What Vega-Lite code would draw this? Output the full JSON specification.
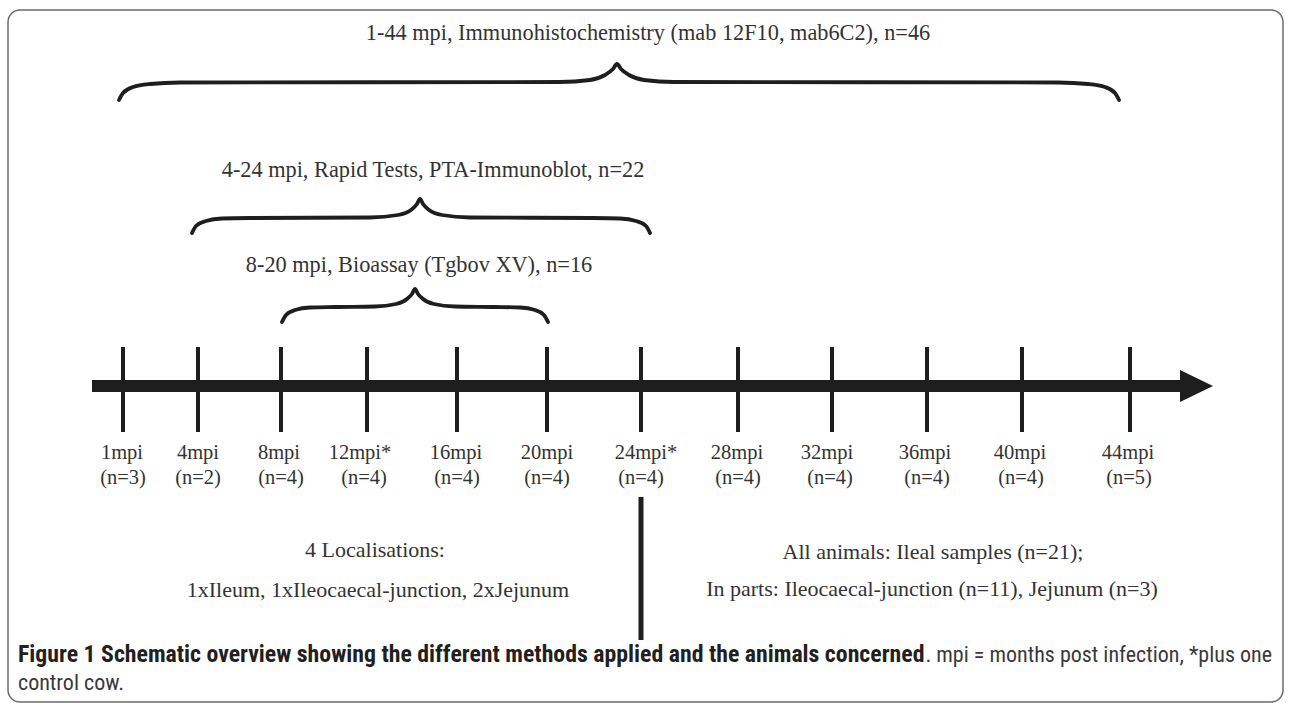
{
  "$schema": "https://vega.github.io/schema/vega-lite/v6.json",
  "width": 1290,
  "height": 703,
  "autosize": {"type": "fit", "contains": "padding"},
  "padding": 0,
  "background": "white",
  "config": {"view": {"stroke": null}},
  "datasets": {
    "frame": [{"x": 8, "x2": 1283, "y": 10, "y2": 702}],
    "axisline": [{"x": 92, "x2": 1182, "y": 386}],
    "arrow": [{"x": 1180, "y": 370, "y2": 402}, {"x": 1213, "y": 386, "y2": 386}],
    "ticks": [
      {"mpi": 1, "x": 123, "y": 347, "y2": 432},
      {"mpi": 4, "x": 198, "y": 347, "y2": 432},
      {"mpi": 8, "x": 281, "y": 347, "y2": 432},
      {"mpi": 12, "x": 367, "y": 347, "y2": 432},
      {"mpi": 16, "x": 457, "y": 347, "y2": 432},
      {"mpi": 20, "x": 547, "y": 347, "y2": 432},
      {"mpi": 24, "x": 641, "y": 347, "y2": 432},
      {"mpi": 28, "x": 738, "y": 347, "y2": 432},
      {"mpi": 32, "x": 832, "y": 347, "y2": 432},
      {"mpi": 36, "x": 927, "y": 347, "y2": 432},
      {"mpi": 40, "x": 1022, "y": 347, "y2": 432},
      {"mpi": 44, "x": 1130, "y": 347, "y2": 432}
    ],
    "ticklabels": [
      {"x": 122, "y": 453, "t": "1mpi"}, {"x": 123, "y": 478, "t": "(n=3)"},
      {"x": 198, "y": 453, "t": "4mpi"}, {"x": 198, "y": 478, "t": "(n=2)"},
      {"x": 279, "y": 453, "t": "8mpi"}, {"x": 281, "y": 478, "t": "(n=4)"},
      {"x": 360, "y": 453, "t": "12mpi*"}, {"x": 364, "y": 478, "t": "(n=4)"},
      {"x": 456, "y": 453, "t": "16mpi"}, {"x": 457, "y": 478, "t": "(n=4)"},
      {"x": 547, "y": 453, "t": "20mpi"}, {"x": 547, "y": 478, "t": "(n=4)"},
      {"x": 646, "y": 453, "t": "24mpi*"}, {"x": 641, "y": 478, "t": "(n=4)"},
      {"x": 737, "y": 453, "t": "28mpi"}, {"x": 738, "y": 478, "t": "(n=4)"},
      {"x": 827, "y": 453, "t": "32mpi"}, {"x": 830, "y": 478, "t": "(n=4)"},
      {"x": 925, "y": 453, "t": "36mpi"}, {"x": 927, "y": 478, "t": "(n=4)"},
      {"x": 1020, "y": 453, "t": "40mpi"}, {"x": 1021, "y": 478, "t": "(n=4)"},
      {"x": 1128, "y": 453, "t": "44mpi"}, {"x": 1129, "y": 478, "t": "(n=5)"}
    ],
    "vline": [{"x": 641, "y": 497, "y2": 640}],
    "braces": [
      {"b": "A", "x": 119, "y": 100}, {"b": "A", "x": 123, "y": 93}, {"b": "A", "x": 133, "y": 87}, {"b": "A", "x": 150, "y": 84}, {"b": "A", "x": 180, "y": 82.5},
      {"b": "A", "x": 560, "y": 82}, {"b": "A", "x": 590, "y": 80}, {"b": "A", "x": 605, "y": 75}, {"b": "A", "x": 613, "y": 69}, {"b": "A", "x": 617, "y": 64},
      {"b": "A", "x": 621, "y": 69}, {"b": "A", "x": 629, "y": 75}, {"b": "A", "x": 644, "y": 80}, {"b": "A", "x": 674, "y": 82}, {"b": "A", "x": 1058, "y": 82.5},
      {"b": "A", "x": 1088, "y": 84}, {"b": "A", "x": 1105, "y": 87}, {"b": "A", "x": 1115, "y": 93}, {"b": "A", "x": 1119, "y": 100},
      {"b": "B", "x": 192, "y": 233}, {"b": "B", "x": 196, "y": 226}, {"b": "B", "x": 206, "y": 221}, {"b": "B", "x": 222, "y": 218.5}, {"b": "B", "x": 250, "y": 218},
      {"b": "B", "x": 370, "y": 217.5}, {"b": "B", "x": 398, "y": 215}, {"b": "B", "x": 411, "y": 210}, {"b": "B", "x": 417, "y": 204}, {"b": "B", "x": 420, "y": 199},
      {"b": "B", "x": 423, "y": 204}, {"b": "B", "x": 429, "y": 210}, {"b": "B", "x": 442, "y": 215}, {"b": "B", "x": 470, "y": 217.5}, {"b": "B", "x": 592, "y": 218},
      {"b": "B", "x": 620, "y": 218.5}, {"b": "B", "x": 636, "y": 221}, {"b": "B", "x": 646, "y": 226}, {"b": "B", "x": 650, "y": 233},
      {"b": "C", "x": 282, "y": 322}, {"b": "C", "x": 286, "y": 315}, {"b": "C", "x": 295, "y": 310}, {"b": "C", "x": 310, "y": 307.5}, {"b": "C", "x": 335, "y": 307},
      {"b": "C", "x": 375, "y": 306.5}, {"b": "C", "x": 396, "y": 304}, {"b": "C", "x": 407, "y": 299}, {"b": "C", "x": 412, "y": 294}, {"b": "C", "x": 415, "y": 289},
      {"b": "C", "x": 418, "y": 294}, {"b": "C", "x": 423, "y": 299}, {"b": "C", "x": 434, "y": 304}, {"b": "C", "x": 455, "y": 306.5}, {"b": "C", "x": 495, "y": 307},
      {"b": "C", "x": 520, "y": 307.5}, {"b": "C", "x": 535, "y": 310}, {"b": "C", "x": 544, "y": 315}, {"b": "C", "x": 548, "y": 322}
    ],
    "headings": [
      {"h": "A", "x": 648, "y": 33, "t": "1-44 mpi, Immunohistochemistry (mab 12F10, mab6C2), n=46"},
      {"h": "B", "x": 433, "y": 170, "t": "4-24 mpi, Rapid Tests, PTA-Immunoblot, n=22"},
      {"h": "C", "x": 419, "y": 265, "t": "8-20 mpi, Bioassay (Tgbov XV), n=16"}
    ],
    "notes": [
      {"x": 375, "y": 550, "t": "4 Localisations:"},
      {"x": 378, "y": 590, "t": "1xIleum, 1xIleocaecal-junction, 2xJejunum"},
      {"x": 933, "y": 552, "t": "All animals: Ileal samples (n=21);"},
      {"x": 932, "y": 589, "t": "In parts: Ileocaecal-junction (n=11), Jejunum (n=3)"}
    ],
    "capbold": [{"x": 18, "y": 655, "t": "Figure 1 Schematic overview showing the different methods applied and the animals concerned"}],
    "capreg": [{"x": 1272, "y": 655, "t": ". mpi = months post infection, *plus one"}],
    "capreg2": [{"x": 18, "y": 683, "t": "control cow."}]
  },
  "layer": [
    {
      "data": {"name": "frame"},
      "mark": {"type": "rect", "filled": false, "stroke": "#6b6b6b", "strokeWidth": 1.5, "cornerRadius": 12},
      "encoding": {
        "x": {"field": "x", "type": "quantitative", "scale": {"domain": [0, 1290], "nice": false, "zero": false}, "axis": null},
        "x2": {"field": "x2"},
        "y": {"field": "y", "type": "quantitative", "scale": {"domain": [0, 703], "reverse": true, "nice": false, "zero": false}, "axis": null},
        "y2": {"field": "y2"}
      }
    },
    {
      "data": {"name": "axisline"},
      "mark": {"type": "rule", "color": "#1e1e1e", "strokeWidth": 12, "strokeCap": "butt"},
      "encoding": {
        "x": {"field": "x", "type": "quantitative"},
        "x2": {"field": "x2"},
        "y": {"field": "y", "type": "quantitative"}
      }
    },
    {
      "data": {"name": "arrow"},
      "mark": {"type": "area", "color": "#1e1e1e", "opacity": 1},
      "encoding": {
        "x": {"field": "x", "type": "quantitative"},
        "y": {"field": "y", "type": "quantitative"},
        "y2": {"field": "y2"}
      }
    },
    {
      "data": {"name": "ticks"},
      "mark": {"type": "rule", "color": "#1e1e1e", "strokeWidth": 4, "strokeCap": "butt"},
      "encoding": {
        "x": {"field": "x", "type": "quantitative"},
        "y": {"field": "y", "type": "quantitative"},
        "y2": {"field": "y2"}
      }
    },
    {
      "data": {"name": "vline"},
      "mark": {"type": "rule", "color": "#1e1e1e", "strokeWidth": 5, "strokeCap": "butt"},
      "encoding": {
        "x": {"field": "x", "type": "quantitative"},
        "y": {"field": "y", "type": "quantitative"},
        "y2": {"field": "y2"}
      }
    },
    {
      "data": {"name": "braces"},
      "mark": {"type": "line", "color": "#1e1e1e", "strokeWidth": 3.8, "interpolate": "monotone", "strokeCap": "round"},
      "encoding": {
        "x": {"field": "x", "type": "quantitative"},
        "y": {"field": "y", "type": "quantitative"},
        "detail": {"field": "b", "type": "nominal"}
      }
    },
    {
      "data": {"name": "headings"},
      "mark": {"type": "text", "font": "Liberation Serif", "fontSize": 22.3, "color": "#333333", "align": "center", "baseline": "middle"},
      "encoding": {
        "x": {"field": "x", "type": "quantitative"},
        "y": {"field": "y", "type": "quantitative"},
        "text": {"field": "t", "type": "nominal"}
      }
    },
    {
      "data": {"name": "ticklabels"},
      "mark": {"type": "text", "font": "Liberation Serif", "fontSize": 20.5, "color": "#333333", "align": "center", "baseline": "middle"},
      "encoding": {
        "x": {"field": "x", "type": "quantitative"},
        "y": {"field": "y", "type": "quantitative"},
        "text": {"field": "t", "type": "nominal"}
      }
    },
    {
      "data": {"name": "notes"},
      "mark": {"type": "text", "font": "Liberation Serif", "fontSize": 22, "color": "#333333", "align": "center", "baseline": "middle"},
      "encoding": {
        "x": {"field": "x", "type": "quantitative"},
        "y": {"field": "y", "type": "quantitative"},
        "text": {"field": "t", "type": "nominal"}
      }
    },
    {
      "data": {"name": "capbold"},
      "mark": {"type": "text", "font": "Liberation Sans Narrow, Roboto Condensed, Roboto", "fontSize": 23.8, "fontWeight": "bold", "color": "#231f20", "align": "left", "baseline": "middle"},
      "encoding": {
        "x": {"field": "x", "type": "quantitative"},
        "y": {"field": "y", "type": "quantitative"},
        "text": {"field": "t", "type": "nominal"}
      }
    },
    {
      "data": {"name": "capreg"},
      "mark": {"type": "text", "font": "Liberation Sans Narrow, Roboto Condensed, Roboto", "fontSize": 22, "color": "#3a3a3a", "align": "right", "baseline": "middle"},
      "encoding": {
        "x": {"field": "x", "type": "quantitative"},
        "y": {"field": "y", "type": "quantitative"},
        "text": {"field": "t", "type": "nominal"}
      }
    },
    {
      "data": {"name": "capreg2"},
      "mark": {"type": "text", "font": "Liberation Sans Narrow, Roboto Condensed, Roboto", "fontSize": 22, "color": "#3a3a3a", "align": "left", "baseline": "middle"},
      "encoding": {
        "x": {"field": "x", "type": "quantitative"},
        "y": {"field": "y", "type": "quantitative"},
        "text": {"field": "t", "type": "nominal"}
      }
    }
  ]
}
